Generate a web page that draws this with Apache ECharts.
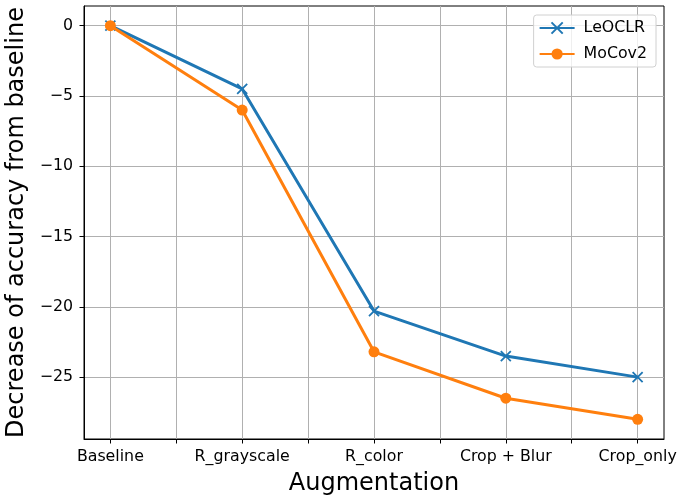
<!DOCTYPE html>
<html><head><meta charset="utf-8">
<script src="https://cdn.jsdelivr.net/npm/echarts@6/dist/echarts.min.js"></script>
<style>html,body{margin:0;padding:0;background:#fff}#c{width:678px;height:495px}</style>
</head><body><div id="c"></div>
<script>
const categories = ['Baseline', 'R_grayscale', 'R_color', 'Crop + Blur', 'Crop_only'];
const leoclr = [0, -4.5, -20.3, -23.5, -25];
const mocov2 = [0, -6, -23.2, -26.5, -28];
const xTicks = [0, 0.5, 1, 1.5, 2, 2.5, 3, 3.5, 4];
const xLabelTicks = [0, 1, 2, 3, 4];
const yTicks = [-25, -20, -15, -10, -5, 0];

const font = 'DejaVu Sans';
const chart = echarts.init(document.getElementById('c'));
const xMarker = 'path://M0,0L10,10M10,0L0,10';
chart.setOption({
  animation: false,
  textStyle: { fontFamily: font },
  grid: { left: 84, right: 14, top: 6, bottom: 56, show: true, borderColor: '#000', borderWidth: 1,
    containLabel: false, outerBoundsMode: 'none' },
  legend: {
    right: 22, top: 15,
    orient: 'vertical',
    itemWidth: 35, itemHeight: 14, itemGap: 10,
    padding: [5, 9, 5, 5],
    borderColor: '#d0d0d0', borderWidth: 1, borderRadius: 3,
    backgroundColor: 'rgba(255,255,255,0.8)',
    textStyle: { fontFamily: font, fontSize: 15.8, color: '#000', padding: [0, 0, 0, 4] },
    data: ['LeOCLR', 'MoCov2']
  },
  xAxis: {
    type: 'value', min: -0.2, max: 4.2,
    name: 'Augmentation', nameLocation: 'middle', nameGap: 33,
    nameTextStyle: { fontFamily: font, fontSize: 24, color: '#000' },
    axisLine: { show: true, onZero: false, lineStyle: { color: '#000', width: 1 } },
    axisTick: { show: true, inside: false, length: 4.5, customValues: xTicks, lineStyle: { color: '#000', width: 1 } },
    axisLabel: { customValues: xLabelTicks, margin: 10, fontFamily: font, fontSize: 15.8, color: '#000',
      formatter: v => categories[Math.round(v)] },
    splitLine: { show: true, lineStyle: { color: '#b0b0b0', width: 1 } }
  },
  yAxis: {
    type: 'value', min: -29.4, max: 1.4,
    name: 'Decrease of accuracy from baseline', nameLocation: 'middle', nameGap: 51,
    nameTextStyle: { fontFamily: font, fontSize: 24, color: '#000' },
    axisLine: { show: true, onZero: false, lineStyle: { color: '#000', width: 1 } },
    axisTick: { show: true, inside: false, length: 4.5, customValues: yTicks, lineStyle: { color: '#000', width: 1 } },
    axisLabel: { customValues: yTicks, margin: 11, fontFamily: font, fontSize: 15.8, color: '#000',
      formatter: v => String(v).replace('-', '\u2212') },
    splitLine: { show: true, lineStyle: { color: '#b0b0b0', width: 1 } }
  },
  series: [
    {
      name: 'LeOCLR', type: 'line',
      data: leoclr.map((v, i) => [i, v]),
      symbol: xMarker, symbolSize: 10,
      lineStyle: { color: '#1f77b4', width: 3 },
      itemStyle: { color: '#1f77b4', borderColor: '#1f77b4', borderWidth: 1.8 },
      z: 2
    },
    {
      name: 'MoCov2', type: 'line',
      data: mocov2.map((v, i) => [i, v]),
      symbol: 'circle', symbolSize: 11,
      lineStyle: { color: '#ff7f0e', width: 3 },
      itemStyle: { color: '#ff7f0e', borderWidth: 0 },
      z: 3
    }
  ]
});
</script></body></html>
